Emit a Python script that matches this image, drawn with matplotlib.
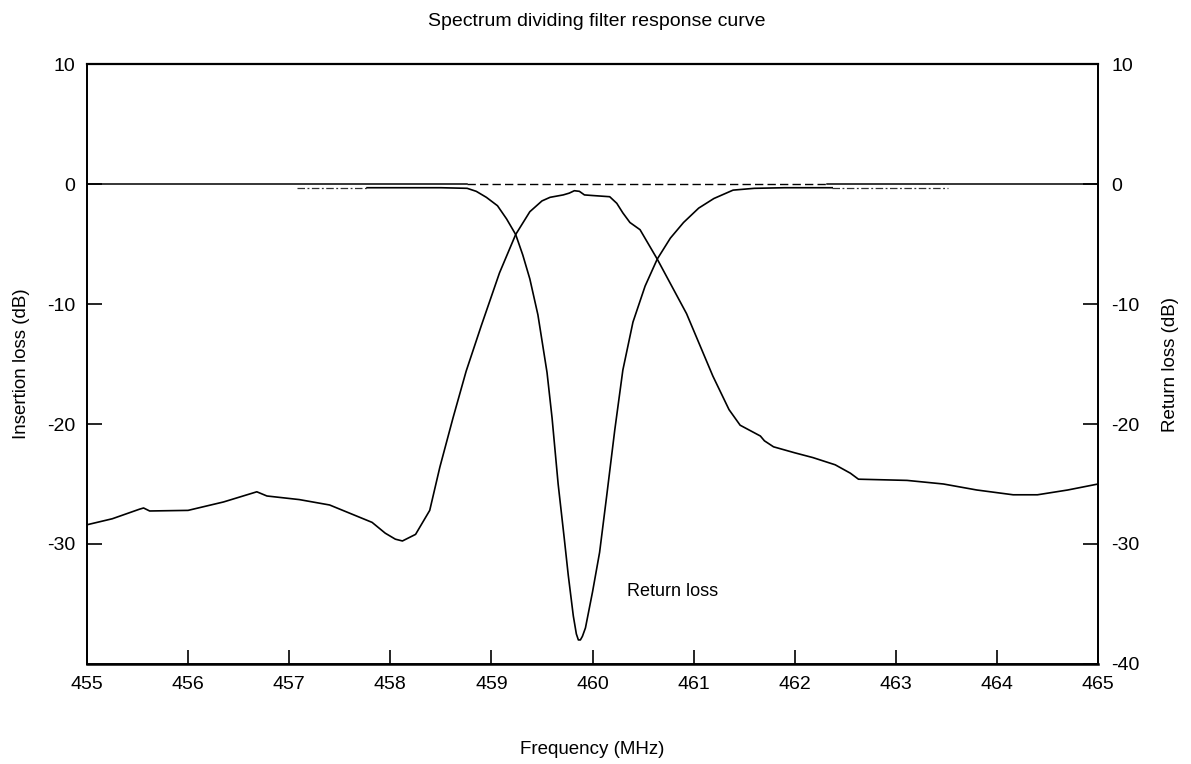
import numpy as np
import matplotlib
matplotlib.use("Agg")
import matplotlib.pyplot as plt

plt.rcParams['font.family'] = ['Liberation Sans', 'DejaVu Sans']
plt.rcParams['axes.unicode_minus'] = False

# insertion loss curve (MHz, dB)
il_freq = [455.0, 455.25, 455.52, 455.56, 455.62, 456.0, 456.35, 456.68, 456.78, 457.1,
           457.4, 457.82, 457.95, 458.05, 458.12, 458.25, 458.39, 458.49, 458.62, 458.75,
           458.9, 459.08, 459.24, 459.38, 459.5, 459.58, 459.71, 459.77, 459.82, 459.87,
           459.92, 460.0, 460.17, 460.24, 460.3, 460.37, 460.47, 460.64, 460.93, 461.19,
           461.35, 461.46, 461.66, 461.7, 461.79, 462.0, 462.18, 462.4, 462.55, 462.63,
           463.11, 463.47, 463.8, 464.16, 464.4, 464.7, 465.0]
il_db = [-28.4, -27.9, -27.1, -27.0, -27.25, -27.2, -26.5, -25.65, -26.0, -26.3,
         -26.75, -28.2, -29.1, -29.6, -29.75, -29.2, -27.2, -23.6, -19.5, -15.6,
         -11.8, -7.4, -4.2, -2.3, -1.4, -1.1, -0.9, -0.75, -0.55, -0.6,
         -0.9, -0.95, -1.05, -1.6, -2.4, -3.2, -3.8, -6.25, -10.8, -16.0,
         -18.8, -20.1, -21.0, -21.4, -21.9, -22.4, -22.8, -23.4, -24.1, -24.6,
         -24.7, -25.0, -25.5, -25.9, -25.9, -25.5, -25.0]

# return loss curve, measured part
rl_freq = [457.77, 458.0, 458.5, 458.76, 458.85, 458.95, 459.06, 459.15, 459.24, 459.31,
           459.38, 459.46, 459.55, 459.6, 459.66, 459.72, 459.76, 459.81, 459.84, 459.86,
           459.88, 459.9, 459.93, 460.0, 460.07, 460.14, 460.22, 460.3, 460.4, 460.52,
           460.64, 460.77, 460.9, 461.05, 461.2, 461.39, 461.6, 461.9, 462.37]
rl_db = [-0.3, -0.3, -0.3, -0.35, -0.6, -1.1, -1.8, -2.9, -4.2, -5.9,
         -7.9, -10.9, -15.7, -19.5, -25.0, -29.5, -32.6, -36.0, -37.5, -38.0,
         -38.0, -37.7, -37.0, -34.0, -30.7, -26.0, -20.5, -15.5, -11.5, -8.5,
         -6.25, -4.5, -3.2, -2.0, -1.2, -0.5, -0.35, -0.3, -0.3]

# dash-dot extensions of the return loss curve
rl_left_freq = [457.08, 457.77]
rl_left_db = [-0.3, -0.3]
rl_right_freq = [462.37, 463.52]
rl_right_db = [-0.3, -0.3]

# 0 dB reference line: solid / dashed / solid
ref_solid1 = [455.0, 458.76]
ref_dash = [458.76, 462.32]
ref_solid2 = [462.32, 465.0]

fig = plt.figure(figsize=(11.91, 7.64), dpi=100)
ax = fig.add_axes([0.073, 0.131, 0.849, 0.785])

ax.plot(ref_solid1, [0, 0], color='black', lw=1.1)
ax.plot(ref_dash, [0, 0], color='black', lw=1.0, linestyle=(0, (6, 3)))
ax.plot(ref_solid2, [0, 0], color='black', lw=1.1)

ax.plot(il_freq, il_db, color='black', lw=1.2)
ax.plot(rl_freq, rl_db, color='black', lw=1.2)
ax.plot(rl_left_freq, rl_left_db, color='#333333', lw=0.9, linestyle=(0, (6, 2, 1.5, 2)))
ax.plot(rl_right_freq, rl_right_db, color='#333333', lw=0.9, linestyle=(0, (6, 2, 1.5, 2)))

ax.text(460.34, -34, "Return loss", fontsize=13, va='center', ha='left')

ax.set_xlim(455, 465)
ax.set_ylim(-40, 10)
ax.set_xticks(np.arange(455, 466, 1))
ax.set_yticks([10, 0, -10, -20, -30])

ax2 = ax.twinx()
ax2.set_ylim(-40, 10)
ax2.set_yticks([10, 0, -10, -20, -30, -40])

for a in (ax, ax2):
    for s in a.spines.values():
        s.set_linewidth(1.3)
ax.spines['bottom'].set_linewidth(1.8)
ax.spines['top'].set_linewidth(1.6)

ax.tick_params(axis='x', direction='in', length=10, width=1.2, pad=9, labelsize=14)
ax.tick_params(axis='y', direction='in', length=11, width=1.2, pad=8.5, labelsize=14)
ax2.tick_params(axis='y', direction='in', length=11, width=1.2, pad=9.5, labelsize=14)

ax.set_xlabel("Frequency (MHz)", fontsize=13.5, labelpad=34)
ax.set_ylabel("Insertion loss (dB)", fontsize=13.5, labelpad=12)
ax2.set_ylabel("Return loss (dB)", fontsize=13.5, labelpad=16)
fig.text(0.501, 0.972, "Spectrum dividing filter response curve", fontsize=14,
         ha='center', va='center')

fig.savefig("out.png", dpi=100)
